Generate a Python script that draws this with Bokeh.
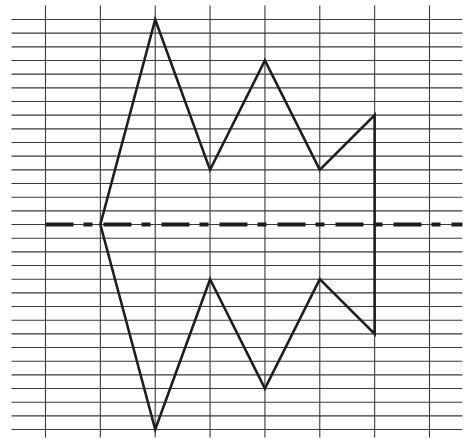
from bokeh.plotting import figure
from bokeh.embed import file_html
from bokeh.resources import INLINE

# Data
x_pts = [1, 2, 3, 4, 5, 6]
upper = [0, 15, 4, 12, 4, 8]
lower = [0, -15, -4, -12, -4, -8]
x_grid = [0, 1, 2, 3, 4, 5, 6, 7]
y_grid = list(range(-15, 16))
axis_x = [0, 7.6]
axis_y = [0, 0]

p = figure(width=472, height=439, output_backend="svg", toolbar_location=None,
           x_range=(-0.8203, 7.784), y_range=(-15.73, 16.39), min_border=0)
p.axis.visible = False
p.grid.visible = False
p.outline_line_color = None
p.background_fill_color = "white"

# grid lines
p.segment(x0=[-0.62] * len(y_grid), x1=[7.60] * len(y_grid), y0=y_grid, y1=y_grid,
          line_color="#3a3a3a", line_width=1.1)
p.segment(x0=x_grid, x1=x_grid, y0=[-15.58] * len(x_grid), y1=[16.02] * len(x_grid),
          line_color="#3a3a3a", line_width=1.1)

# dash-dot axis line
p.line(axis_x, axis_y, line_color="#1e1e1e", line_width=4, line_dash="28 10 9 11")

# envelope
xs = x_pts + x_pts[::-1]
ys = upper + lower[::-1]
p.line(xs, ys, line_color="#1e1e1e", line_width=2.6, line_join="miter")

open("out.html", "w").write(file_html(p, INLINE))
